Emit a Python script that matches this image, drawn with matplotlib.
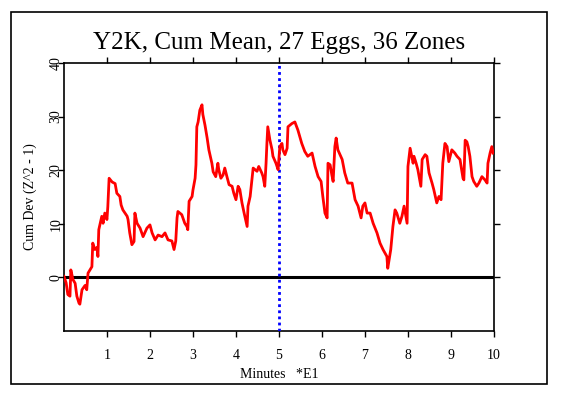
import matplotlib
matplotlib.use("Agg")
import matplotlib.pyplot as plt
from matplotlib.patches import Rectangle

# time in minutes (*E1) and cumulative deviation
minutes = [0.00, 0.05, 0.09, 0.14, 0.16, 0.21, 0.26, 0.30, 0.35, 0.37,
           0.42, 0.49, 0.53, 0.56, 0.65, 0.67, 0.72, 0.77, 0.79, 0.81,
           0.88, 0.91, 0.95, 1.00, 1.02, 1.05, 1.12, 1.19, 1.23, 1.30,
           1.33, 1.37, 1.47, 1.49, 1.53, 1.58, 1.63, 1.65, 1.70, 1.77,
           1.84, 1.93, 2.00, 2.05, 2.12, 2.19, 2.28, 2.35, 2.42, 2.51,
           2.56, 2.60, 2.63, 2.65, 2.74, 2.81, 2.86, 2.88, 2.91, 2.98,
           3.00, 3.05, 3.07, 3.09, 3.12, 3.16, 3.21, 3.23, 3.28, 3.33,
           3.37, 3.44, 3.47, 3.53, 3.58, 3.60, 3.65, 3.70, 3.74, 3.79,
           3.84, 3.91, 3.95, 4.00, 4.05, 4.09, 4.14, 4.19, 4.26, 4.28,
           4.33, 4.37, 4.40, 4.49, 4.53, 4.60, 4.63, 4.67, 4.70, 4.72,
           4.74, 4.79, 4.84, 4.86, 4.93, 4.98, 5.02, 5.07, 5.09, 5.14,
           5.19, 5.21, 5.30, 5.37, 5.44, 5.53, 5.60, 5.67, 5.77, 5.84,
           5.91, 5.98, 6.02, 6.07, 6.12, 6.14, 6.19, 6.23, 6.26, 6.30,
           6.33, 6.37, 6.47, 6.53, 6.60, 6.70, 6.77, 6.84, 6.91, 6.95,
           7.00, 7.05, 7.12, 7.19, 7.28, 7.35, 7.42, 7.51, 7.53, 7.60,
           7.65, 7.70, 7.74, 7.81, 7.86, 7.91, 7.98, 8.00, 8.05, 8.12,
           8.14, 8.19, 8.23, 8.30, 8.33, 8.40, 8.44, 8.49, 8.56, 8.60,
           8.67, 8.72, 8.77, 8.81, 8.86, 8.91, 8.95, 9.02, 9.09, 9.14,
           9.21, 9.28, 9.30, 9.33, 9.37, 9.40, 9.44, 9.49, 9.53, 9.60,
           9.65, 9.72, 9.79, 9.84, 9.86, 9.91, 9.95, 9.98]
cumdev = [0.2, -1.0, -3.2, -3.5, 1.4, -0.4, -1.1, -3.5, -4.8, -5.0,
          -2.3, -1.5, -2.3, 0.8, 2.0, 6.4, 5.2, 5.6, 3.9, 8.9,
          11.4, 10.1, 12.0, 10.8, 13.2, 18.5, 17.8, 17.5, 15.7, 15.1,
          13.5, 12.6, 11.4, 10.8, 8.3, 6.1, 6.7, 12.0, 10.1, 9.2,
          7.6, 9.2, 9.8, 8.3, 7.0, 7.9, 7.6, 8.3, 7.0, 6.8,
          5.2, 6.8, 11.1, 12.3, 11.7, 10.1, 9.5, 8.9, 14.2, 15.1,
          16.3, 18.5, 21.0, 28.1, 29.0, 31.2, 32.2, 30.4, 28.4, 26.0,
          23.8, 21.3, 19.7, 18.8, 21.3, 20.1, 18.5, 19.1, 20.4, 18.8,
          17.3, 17.0, 15.7, 14.5, 17.0, 16.4, 13.9, 12.0, 9.5, 13.3,
          15.1, 18.2, 20.4, 19.8, 20.7, 19.5, 18.8, 17.0, 21.3, 25.0,
          28.1, 25.6, 23.8, 22.6, 21.3, 20.1, 24.4, 25.0, 23.8, 22.9,
          24.1, 28.1, 28.7, 29.0, 27.5, 25.0, 23.5, 22.6, 23.2, 20.7,
          18.8, 17.9, 15.1, 12.0, 11.1, 21.3, 21.0, 19.1, 17.9, 24.4,
          26.0, 23.8, 22.0, 19.5, 17.6, 17.6, 14.5, 13.3, 11.1, 13.3,
          13.9, 12.0, 12.0, 10.1, 8.3, 6.4, 5.2, 3.9, 1.7, 5.2,
          9.5, 12.6, 12.0, 10.1, 11.4, 13.3, 10.1, 20.7, 24.1, 21.3,
          22.6, 21.3, 20.1, 17.0, 22.0, 22.9, 22.6, 19.5, 17.6, 16.4,
          13.9, 15.1, 14.5, 21.3, 25.0, 24.4, 21.6, 23.8, 23.2, 22.6,
          22.0, 18.5, 18.2, 25.6, 25.3, 24.4, 22.6, 18.8, 17.9, 17.0,
          17.6, 18.8, 18.2, 17.6, 21.3, 23.2, 24.4, 23.2]
marker_min = 5
xticks = [1, 2, 3, 4, 5, 6, 7, 8, 9, 10]
yticks = [0, 10, 20, 30, 40]

plt.rcParams['font.family'] = ['Liberation Serif', 'DejaVu Serif']

fig = plt.figure(figsize=(5.61, 3.95), dpi=100)
ax = fig.add_axes([0.114, 0.162, 0.7665, 0.6785])

fig.patches.append(Rectangle((0.0196, 0.0278), 0.9554, 0.9418, transform=fig.transFigure,
                             fill=False, edgecolor='black', linewidth=1.2))

ax.axhline(0, color='black', linewidth=2.2, zorder=2)
ax.axvline(marker_min, color='blue', linestyle=(0, (1, 1.2)), linewidth=2, zorder=3)
ax.plot(minutes, cumdev, color='red', linewidth=2.0, zorder=4)

ax.set_xlim(0, 10)
ax.set_ylim(-10, 40)
ax.set_xticks(xticks)
ax.set_yticks(yticks)
ax.tick_params(direction='out', length=4, width=1, top=True, right=True, labelsize=10)
ax.tick_params(axis='x', pad=9)
ax.tick_params(axis='y', pad=-3)
plt.setp(ax.get_yticklabels(), rotation=90, va='center')
for s in ax.spines.values():
    s.set_linewidth(1.2)

ax.set_title('Y2K, Cum Mean, 27 Eggs, 36 Zones', fontsize=18, pad=10)
ax.set_xlabel('Minutes   *E1', fontsize=10, labelpad=4)
ax.set_ylabel('Cum Dev (Z^2 - 1)', fontsize=10, labelpad=9)

fig.savefig('out.png', dpi=100)
